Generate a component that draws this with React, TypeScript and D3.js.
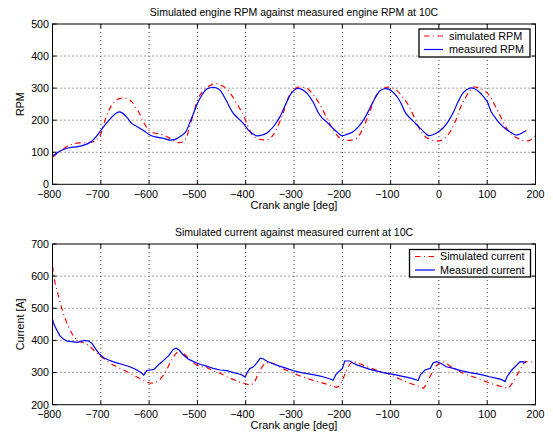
import React from "react";
import * as d3 from "d3";

// ---------- DATA ----------
const xTicks = [-800, -700, -600, -500, -400, -300, -200, -100, 0, 100, 200];
const rpmTicks = [0, 100, 200, 300, 400, 500];
const curTicks = [200, 300, 400, 500, 600, 700];

const rpmMeasAngle = [-800, -790, -780, -765, -750, -735, -720, -710, -700, -690, -680, -670, -662, -655, -645, -636, -625, -610, -598, -585, -570, -557, -545, -535, -525, -515, -507, -500, -490, -480, -470, -462, -453, -446, -438, -432, -426, -415, -405, -395, -385, -377, -368, -358, -350, -340, -329, -315, -305, -295, -285, -274, -260, -250, -242, -232, -219, -210, -201, -192, -177, -165, -156, -146, -136, -122, -112, -103, -95, -85, -77, -70, -62, -50, -40, -30, -22, -12, 0, 10, 20, 30, 40, 50, 64, 74, 84, 92, 100, 109, 118, 126, 137, 147, 158, 165, 172, 181];
const rpmMeasValue = [88, 98, 107, 114, 117, 122, 133, 148, 168, 188, 205, 220, 226, 222, 207, 190, 180, 166, 154, 147, 143, 138, 141, 150, 162, 195, 225, 252, 280, 298, 302, 301, 293, 277, 255, 237, 222, 205, 190, 170, 157, 151, 153, 158, 168, 185, 211, 257, 285, 298, 297, 285, 255, 224, 207, 194, 174, 162, 152, 155, 165, 182, 201, 228, 258, 292, 298, 296, 287, 270, 248, 225, 210, 192, 177, 162, 152, 155, 165, 178, 198, 225, 258, 285, 300, 298, 287, 274, 258, 224, 205, 190, 174, 164, 154, 155, 160, 167];

const rpmSimAngle = [-800, -785, -770, -760, -745, -730, -715, -708, -701, -691, -684, -677, -668, -660, -650, -642, -636, -629, -622, -615, -608, -600, -590, -577, -565, -557, -548, -540, -530, -522, -518, -508, -498, -490, -481, -470, -460, -446, -432, -419, -405, -395, -384, -370, -353, -345, -339, -325, -312, -301, -291, -280, -274, -260, -246, -232, -219, -205, -195, -184, -170, -157, -143, -129, -118, -105, -95, -85, -75, -65, -55, -45, -35, -25, -15, -5, 5, 15, 25, 35, 45, 55, 63, 71, 80, 90, 100, 108, 118, 127, 140, 150, 161, 170, 178, 188, 195, 200];
const rpmSimValue = [84, 102, 118, 125, 129, 130, 133, 140, 154, 201, 228, 248, 262, 268, 269, 264, 258, 243, 227, 205, 185, 167, 160, 157, 150, 144, 135, 130, 133, 148, 170, 222, 269, 288, 300, 311, 314, 305, 284, 253, 216, 180, 151, 140, 140, 150, 165, 211, 269, 295, 303, 302, 300, 279, 248, 206, 170, 144, 138, 137, 144, 175, 227, 279, 296, 303, 300, 290, 272, 252, 222, 188, 160, 145, 138, 135, 137, 148, 168, 200, 240, 270, 290, 303, 302, 296, 285, 269, 240, 214, 175, 157, 145, 139, 135, 137, 145, 152];

const curMeasAngle = [-800, -797, -792, -785, -778, -770, -760, -750, -742, -735, -725, -718, -710, -702, -694, -685, -675, -667, -655, -640, -625, -615, -611, -605, -598, -590, -580, -570, -560, -550, -544, -538, -530, -520, -508, -495, -481, -465, -453, -439, -425, -410, -401, -397, -392, -384, -376, -370, -364, -356, -345, -330, -315, -300, -285, -270, -255, -240, -225, -219, -214, -206, -200, -195, -184, -178, -170, -155, -143, -130, -115, -100, -87, -75, -65, -55, -43, -39, -29, -18, -12, -5, 5, 15, 30, 45, 64, 80, 92, 105, 120, 130, 137, 141, 151, 161, 168, 175, 180];
const curMeasValue = [466, 450, 435, 415, 405, 398, 396, 394, 396, 400, 398, 390, 372, 356, 346, 340, 334, 330, 325, 318, 308, 298, 292, 306, 308, 310, 325, 338, 352, 372, 376, 370, 356, 343, 334, 326, 320, 312, 308, 306, 300, 294, 286, 300, 312, 318, 332, 345, 343, 335, 328, 320, 313, 305, 300, 296, 292, 287, 280, 276, 292, 305, 312, 336, 336, 330, 324, 316, 310, 305, 300, 296, 292, 288, 285, 281, 275, 291, 308, 313, 330, 334, 328, 318, 313, 306, 300, 296, 292, 287, 282, 278, 272, 287, 308, 323, 334, 333, 331];

const curSimAngle = [-800, -795, -788, -784, -777, -770, -763, -757, -750, -743, -735, -729, -720, -710, -701, -690, -681, -667, -653, -640, -626, -612, -600, -592, -584, -577, -570, -563, -557, -550, -543, -536, -529, -522, -515, -508, -501, -490, -481, -467, -453, -439, -425, -412, -405, -391, -385, -381, -376, -370, -365, -360, -350, -343, -336, -320, -301, -285, -267, -250, -232, -212, -206, -201, -196, -191, -186, -180, -170, -160, -149, -130, -108, -90, -74, -57, -39, -32, -27, -22, -15, -8, 0, 9, 16, 23, 35, 50, 68, 85, 100, 119, 132, 143, 149, 154, 161, 168, 173, 178, 188, 195, 200];
const curSimValue = [632, 580, 540, 515, 482, 453, 430, 414, 402, 396, 392, 389, 378, 362, 351, 340, 329, 318, 308, 298, 287, 276, 268, 267, 272, 280, 292, 310, 329, 348, 362, 368, 360, 350, 339, 330, 323, 318, 316, 305, 298, 287, 278, 270, 267, 261, 265, 272, 290, 308, 320, 329, 332, 328, 323, 310, 298, 288, 279, 271, 264, 254, 258, 272, 290, 308, 322, 334, 331, 325, 318, 308, 298, 286, 275, 265, 256, 251, 262, 277, 298, 318, 328, 334, 328, 320, 310, 298, 288, 279, 270, 261, 255, 251, 260, 272, 290, 308, 322, 334, 334, 332, 329];

// ---------- LAYOUT ----------
const W = 553;
const H = 433;
const X0 = 52.5;
const X1 = 535.5;
const FONT = "'Liberation Sans', Arial, Helvetica, sans-serif";
const FS = 10.7;

type Series = { xs: number[]; ys: number[]; color: string; dash: string; curve: d3.CurveFactory };
type PanelProps = {
  top: number;
  bottom: number;
  yDomain: [number, number];
  yTicks: number[];
  title: string;
  yLabel: string;
  series: Series[];
  legend: { labels: string[]; x: number; y: number; w: number; h: number; sampleX0: number; sampleX1: number; textX: number };
};

function Panel({ top, bottom, yDomain, yTicks, title, yLabel, series, legend }: PanelProps) {
  const x = d3.scaleLinear().domain([-800, 200]).range([X0, X1]);
  const y = d3.scaleLinear().domain(yDomain).range([bottom, top]);
  const tickLen = 4;
  return (
    <g>
      <rect x={X0} y={top} width={X1 - X0} height={bottom - top} fill="#fff" />
      {/* grid */}
      {xTicks.slice(1, -1).map((t) => (
        <line key={"gx" + t} x1={x(t)} x2={x(t)} y1={top} y2={bottom} stroke="#444" strokeWidth={1} strokeDasharray="1,3" />
      ))}
      {yTicks.slice(1, -1).map((t) => (
        <line key={"gy" + t} x1={X0} x2={X1} y1={y(t)} y2={y(t)} stroke="#444" strokeWidth={1} strokeDasharray="1,3" />
      ))}
      {/* data */}
      {series.map((s, i) => {
        const pts: [number, number][] = s.xs.map((a, k) => [a, s.ys[k]]);
        const gen = d3
          .line<[number, number]>()
          .x((d) => x(d[0]))
          .y((d) => y(d[1]))
          .curve(s.curve);
        return <path key={i} d={gen(pts) || ""} fill="none" stroke={s.color} strokeWidth={1.2} strokeDasharray={s.dash} />;
      })}
      {/* axes box */}
      <rect x={X0} y={top} width={X1 - X0} height={bottom - top} fill="none" stroke="#000" strokeWidth={1} />
      {xTicks.map((t) => (
        <g key={"tx" + t}>
          <line x1={x(t)} x2={x(t)} y1={bottom} y2={bottom - tickLen} stroke="#000" />
          <line x1={x(t)} x2={x(t)} y1={top} y2={top + tickLen} stroke="#000" />
          <text x={x(t) - (t < 0 ? 3.3 : 0)} y={bottom + 13.4} textAnchor="middle" fontSize={FS} fontFamily={FONT} fill="#000">
            {t < 0 ? "\u2212" + Math.abs(t) : String(t)}
          </text>
        </g>
      ))}
      {yTicks.map((t) => (
        <g key={"ty" + t}>
          <line x1={X0} x2={X0 + tickLen} y1={y(t)} y2={y(t)} stroke="#000" />
          <line x1={X1} x2={X1 - tickLen} y1={y(t)} y2={y(t)} stroke="#000" />
          <text x={X0 - 3.5} y={y(t) + 3.8} textAnchor="end" fontSize={FS} fontFamily={FONT} fill="#000">
            {String(t)}
          </text>
        </g>
      ))}
      <text x={(X0 + X1) / 2} y={top - 8.5} textAnchor="middle" fontSize={10.5} fontFamily={FONT} fill="#000">
        {title}
      </text>
      <text x={(X0 + X1) / 2} y={bottom + 24.6} textAnchor="middle" fontSize={11} fontFamily={FONT} fill="#000">
        Crank angle [deg]
      </text>
      <text
        transform={`translate(${24},${(top + bottom) / 2}) rotate(-90)`}
        textAnchor="middle"
        fontSize={FS}
        fontFamily={FONT}
        fill="#000"
      >
        {yLabel}
      </text>
      {/* legend */}
      <rect x={legend.x} y={legend.y} width={legend.w} height={legend.h} fill="#fff" stroke="#000" strokeWidth={1.3} />
      {legend.labels.map((lab, i) => {
        const cy = legend.y + 7 + i * 13.5;
        const s = series[i];
        return (
          <g key={"lg" + i}>
            <line x1={legend.sampleX0} x2={legend.sampleX1} y1={cy} y2={cy} stroke={s.color} strokeWidth={1.2} strokeDasharray={s.dash} />
            <text x={legend.textX} y={cy + 3.8} fontSize={10.8} fontFamily={FONT} fill="#000">
              {lab}
            </text>
          </g>
        );
      })}
    </g>
  );
}

export default function App() {
  const dashDot = "5.5,3.5,1,3.5";
  return (
    <svg width={W} height={H} style={{ position: "absolute", left: 0, top: 0, background: "#fff" }}>
      <rect width={W} height={H} fill="#fff" />
      <Panel
        top={24}
        bottom={184.3}
        yDomain={[0, 500]}
        yTicks={rpmTicks}
        title="Simulated engine RPM against measured engine RPM at 10C"
        yLabel="RPM"
        series={[
          { xs: rpmSimAngle, ys: rpmSimValue, color: "#ff0000", dash: dashDot, curve: d3.curveCatmullRom },
          { xs: rpmMeasAngle, ys: rpmMeasValue, color: "#0000ff", dash: "", curve: d3.curveCatmullRom },
        ]}
        legend={{ labels: ["simulated RPM", "measured RPM"], x: 419, y: 29, w: 111, h: 28, sampleX0: 424, sampleX1: 443, textX: 449 }}
      />
      <Panel
        top={244}
        bottom={404.7}
        yDomain={[200, 700]}
        yTicks={curTicks}
        title="Simulated current against measured current at 10C"
        yLabel="Current [A]"
        series={[
          { xs: curSimAngle, ys: curSimValue, color: "#ff0000", dash: dashDot, curve: d3.curveLinear },
          { xs: curMeasAngle, ys: curMeasValue, color: "#0000ff", dash: "", curve: d3.curveLinear },
        ]}
        legend={{ labels: ["Simulated current", "Measured current"], x: 409.5, y: 249.5, w: 121, h: 27.5, sampleX0: 415, sampleX1: 435, textX: 440 }}
      />
    </svg>
  );
}
